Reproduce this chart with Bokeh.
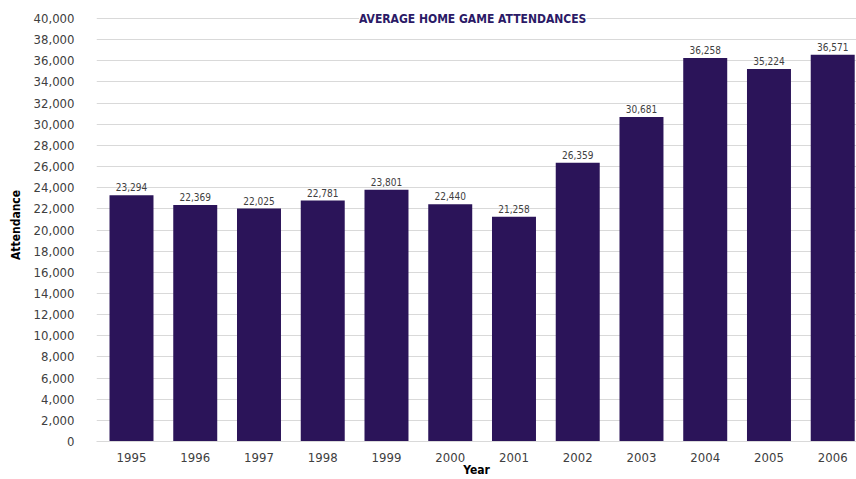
from bokeh.plotting import figure
from bokeh.models import Range1d, FixedTicker, NumeralTickFormatter, ColumnDataSource, LabelSet
from bokeh.core.properties import value
from bokeh.embed import file_html
from bokeh.resources import INLINE

years = [1995, 1996, 1997, 1998, 1999, 2000, 2001, 2002, 2003, 2004, 2005, 2006]
attendance = [23294, 22369, 22025, 22781, 23801, 22440, 21258, 26359, 30681, 36258, 35224, 36571]
y_ticks = list(range(0, 40001, 2000))
title_text = "AVERAGE HOME GAME ATTENDANCES"
y_max = 40000

FONT = "DejaVu Sans Condensed"
BAR = "#2b1459"
TXT = "#404040"

src = ColumnDataSource(dict(
    x=years, y=attendance, lab=[f"{v:,}" for v in attendance]
))

x0, x1 = 1994.451, 2006.373
y_top = y_max * 433 / 423  # a little headroom so the title over the top gridline is not clipped
p = figure(width=856, height=479, output_backend="svg", toolbar_location=None,
           x_range=Range1d(x0, x1), y_range=Range1d(0, y_top),
           min_border_left=96, min_border_right=0, min_border_top=8, min_border_bottom=33)
p.outline_line_color = None
p.background_fill_color = "white"
p.border_fill_color = "white"

p.vbar(x="x", top="y", width=0.69, source=src, fill_color=BAR, line_color=None)

labels = LabelSet(x="x", y="y", text="lab", source=src, text_align="center",
                  text_baseline="bottom", y_offset=4, text_font=value(FONT),
                  text_font_size="10px", text_color=TXT)
p.add_layout(labels)

# title sitting on the top gridline
p.text(x=[(x0 + x1) / 2 - 0.06], y=[y_max], text=[title_text], text_align="center",
       text_baseline="middle", text_font=value(FONT), text_font_style="bold",
       text_font_size="12px", text_color="#2b1a66",
       background_fill_color="white")

# axes
p.xaxis.ticker = FixedTicker(ticks=years)
p.xaxis.major_label_overrides = {y: str(y) for y in years}
p.xaxis.major_tick_line_color = None
p.xaxis.minor_tick_line_color = None
p.xaxis.axis_line_color = "#d9d9d9"
p.xaxis.major_label_text_font = FONT
p.xaxis.major_label_text_font_size = "13px"
p.xaxis.major_label_text_color = TXT
p.xaxis.major_label_standoff = 5
p.xaxis.axis_label = "Year"
p.xaxis.axis_label_text_font = FONT
p.xaxis.axis_label_text_font_style = "bold"
p.xaxis.axis_label_text_font_size = "12px"
p.xaxis.axis_label_text_color = "#000000"
p.xaxis.axis_label_standoff = -2

p.yaxis.ticker = FixedTicker(ticks=y_ticks)
p.yaxis.formatter = NumeralTickFormatter(format="0,0")
p.yaxis.major_tick_line_color = None
p.yaxis.minor_tick_line_color = None
p.yaxis.axis_line_color = None
p.yaxis.major_label_text_font = FONT
p.yaxis.major_label_text_font_size = "13px"
p.yaxis.major_label_text_color = TXT
p.yaxis.major_label_standoff = 16
p.yaxis.axis_label = "Attendance"
p.yaxis.axis_label_text_font = FONT
p.yaxis.axis_label_text_font_style = "bold"
p.yaxis.axis_label_text_font_size = "12px"
p.yaxis.axis_label_text_color = "#000000"
p.yaxis.axis_label_standoff = 8

p.xgrid.grid_line_color = None
p.ygrid.ticker = FixedTicker(ticks=y_ticks)
p.ygrid.grid_line_color = "#d9d9d9"
p.ygrid.grid_line_width = 1

open("out.html", "w").write(file_html(p, INLINE))
